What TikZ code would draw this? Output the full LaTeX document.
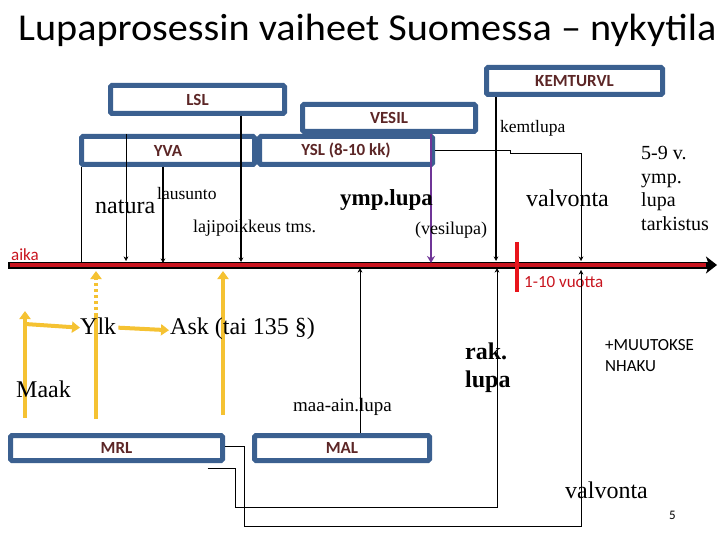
\documentclass[tikz,border=0pt]{standalone}
\usepackage{fontspec}
\setmainfont{Liberation Serif}
\setsansfont{Carlito}
\usetikzlibrary{arrows.meta}

\definecolor{boxblue}{HTML}{3B6090}
\definecolor{boxtext}{HTML}{5C2626}
\definecolor{aikared}{HTML}{C8141E}
\definecolor{tickred}{HTML}{E8141B}
\definecolor{ylw}{HTML}{F5C232}
\definecolor{lila}{HTML}{6F3597}

\begin{document}
\begin{tikzpicture}[x=1pt, y=-1pt, >={Stealth[length=4.5pt,width=4.5pt]}]
    \tikzset{
        lawbox/.style={draw=boxblue, line width=5pt, rounded corners=1.5pt, inner sep=0pt,
            minimum height=28pt, text=boxtext, font=\sffamily\bfseries\fontsize{17}{17}\selectfont},
        lbl/.style={anchor=base west, inner sep=0pt, align=left, font=\fontsize{#1}{#1}\selectfont},
        lbl/.default=18,
        ylwarrow/.style={ylw, line width=4pt, -{Triangle[length=8pt,width=11pt]}}
    }
    \useasboundingbox (0,0) rectangle (720,540);

    \node [anchor=base west, inner sep=0pt, font=\sffamily\fontsize{38}{38}\selectfont] (title) at (18,41) {\scalebox{1.058}[1]{Lupaprosessin vaiheet Suomessa -- nykytila}};

    % laws
    \node [lawbox, minimum width=174pt] (lsl) at (197.5,99.5) {LSL};
    \node [lawbox, minimum width=173pt, minimum height=27pt] (vesil) at (389,118) {VESIL};
    \node [lawbox, minimum width=176pt, minimum height=27pt] (kem) at (574.5,81) {KEMTURVL};
    \node [lawbox, minimum width=173pt] (yva) at (168,150.5) {YVA};
    \node [lawbox, minimum width=173pt] (ysl) at (346,150.5) {YSL (8-10 kk)};
    \node [lawbox, minimum width=212pt, minimum height=25pt] (mrl) at (116.5,448) {MRL};
    \node [lawbox, minimum width=175pt, minimum height=25pt] (mal) at (342,448) {MAL};

    % time axis
    \coordinate (aikaL) at (8,265);
    \coordinate (aikaR) at (717,265);
    \draw [line width=7pt, -{Stealth[length=11pt,width=17pt,inset=3pt]}] (aikaL) -- (aikaR);
    \draw [line width=4pt, aikared] ([xshift=1.5pt]aikaL) -- ([xshift=-11pt]aikaR);
    \node [lbl=17, font=\sffamily\fontsize{17}{17}\selectfont, text=aikared] (aika) at (11,260) {aika};
    \coordinate (tickT) at (517,242);
    \coordinate (tickB) at (517,292);
    \draw [tickred, line width=4pt] (tickT) -- (tickB);
    \node [lbl=17, font=\sffamily\fontsize{17}{17}\selectfont, text=aikared] (vuotta) at (524,287) {1-10 vuotta};

    \coordinate (tA) at (81,263);
    \coordinate (tB) at (126,261);
    \coordinate (tC) at (163,263);
    \coordinate (tD) at (241,262);
    \coordinate (tE) at (431,263);
    \coordinate (tF) at (496,261);
    \coordinate (tG) at (581,261);
    \coordinate (tH) at (360,268);
    \coordinate (tI) at (497,268);
    \coordinate (tJ) at (581,270);

    % above the axis
    \draw [thin] (tA |- yva.south) -- (tA);
    \draw [->] (tB |- yva.north) -- (tB);
    \draw [line width=1.6pt, ->] (tC |- yva.south) -- (tC);
    \draw [line width=1.6pt, ->] (tD |- lsl.south) -- (tD);
    \draw [lila, line width=2.5pt, -{Stealth[length=7pt,width=8pt]}] (tE |- ysl.north) -- (tE);
    \draw [line width=1.2pt, ->] (tF |- kem.south) -- (tF);
    \draw [->] (ysl.east) -- ++(75,0) -- ++(0,3) -| (tG);

    % below the axis
    \coordinate (b1) at (235,507);
    \coordinate (b2) at (244,526);
    \draw [->] (mal.north -| tH) -- (tH);
    \draw [->] ([shift={(-17.5,5.5)}]mrl.south east) -| (b1) -| (tI);
    \draw [->] ([yshift=2pt]mrl.east) -| (b2) -| (tJ);

    % planning chain
    \coordinate (maakA) at (25,418);
    \coordinate (maakB) at (25,311);
    \coordinate (maakC) at (25,324);
    \coordinate (ylkA) at (96,419);
    \coordinate (ylkB) at (96,316);
    \coordinate (ylkC) at (96,271);
    \coordinate (askA) at (223,415);
    \coordinate (askB) at (223,271);
    \draw [ylwarrow] (maakA) -- (maakB);
    \draw [ylw, line width=4pt] (ylkA) -- (ylkB);
    \draw [ylwarrow, dashed] (ylkB) -- (ylkC);
    \draw [ylwarrow] (askA) -- (askB);

    \node [lbl=24] (ylk) at (80,334) {Ylk};
    \node [lbl=24] (ask) at (170,334) {Ask (tai 135 \S)};
    \node [lbl=24] (maak) at (16,397) {Maak};
    \draw [ylwarrow] (maakC) -- ([yshift=-2pt]ylk.west);
    \draw [ylwarrow] ([xshift=2pt,yshift=-2pt]ylk.east) -- ([xshift=-1pt,yshift=-2pt]ask.west);

    % texts
    \node [lbl=24] (natura) at (95,214) {natura};
    \node [lbl=17.5] (lausunto) at (157,200) {lausunto};
    \node [lbl=18] (laji) at (193,233) {lajipoikkeus tms.};
    \node [lbl=23, font=\bfseries\fontsize{23}{23}\selectfont] (ymplupa) at (340,206) {ymp.lupa};
    \node [lbl=18] (vesilupa) at (415,235) {(vesilupa)};
    \node [lbl=17.5] (kemtlupa) at (500,133) {kemtlupa};
    \node [lbl=24] (valv1) at (526,207) {valvonta};
    \node [lbl=20, font=\fontsize{20}{23.5}\selectfont] (tarkistus) at (641,230) {5-9 v.\\ymp.\\lupa\\tarkistus};
    \node [lbl=19] (maaain) at (293,411) {maa-ain.lupa};
    \node [lbl=24, font=\bfseries\fontsize{24}{27.5}\selectfont] (raklupa) at (465,387) {rak.\\lupa};
    \node [lbl=17, font=\sffamily\fontsize{17}{21}\selectfont] (muutos) at (605,371) {+MUUTOKSE\\NHAKU};
    \node [lbl=24] (valv2) at (565,498) {valvonta};
    \node [lbl=13, font=\sffamily\fontsize{13}{13}\selectfont] (sivu) at (669,519) {5};
\end{tikzpicture}
\end{document}
